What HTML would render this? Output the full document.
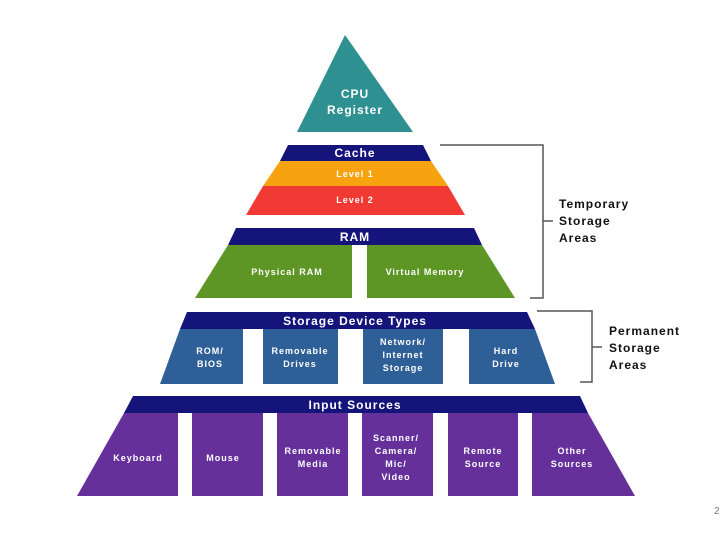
<!DOCTYPE html>
<html><head><meta charset="utf-8"><style>
html,body{margin:0;padding:0;background:#fff;}
svg text{font-family:"Liberation Sans",sans-serif;font-weight:bold;fill:#fff;text-anchor:middle;}
</style></head><body>
<svg width="720" height="540" viewBox="0 0 720 540" xmlns="http://www.w3.org/2000/svg">
<rect width="720" height="540" fill="#fff"/>
<polygon points="345,35 297,132 413,132" fill="#2e9090"/>
<text x="355" y="98" font-size="12" letter-spacing="1">CPU</text>
<text x="355" y="114" font-size="12" letter-spacing="1">Register</text>

<polygon points="288,145 423,145 431,161 280,161" fill="#14147a"/>
<text x="355" y="157" font-size="12" letter-spacing="1">Cache</text>
<polygon points="280,161 431,161 448,186 263,186" fill="#f7a20f"/>
<text x="355" y="177" font-size="9" letter-spacing="1">Level 1</text>
<polygon points="263,186 448,186 465,215 246,215" fill="#f23a35"/>
<text x="355" y="203" font-size="9" letter-spacing="1">Level 2</text>

<polygon points="236,228 474,228 482,245 228,245" fill="#14147a"/>
<text x="355" y="241" font-size="12" letter-spacing="1">RAM</text>
<polygon points="228,245 352,245 352,298 195,298" fill="#5e9625"/>
<polygon points="367,245 482,245 515,298 367,298" fill="#5e9625"/>
<text x="287" y="275" font-size="9" letter-spacing="1">Physical RAM</text>
<text x="425" y="275" font-size="9" letter-spacing="1">Virtual Memory</text>

<polygon points="187,312 527,312 535,329 180,329" fill="#14147a"/>
<text x="355" y="325" font-size="12" letter-spacing="1">Storage Device Types</text>
<polygon points="180,329 243,329 243,384 160,384" fill="#2e5f96"/>
<rect x="263" y="329" width="75" height="55" fill="#2e5f96"/>
<rect x="363" y="329" width="80" height="55" fill="#2e5f96"/>
<polygon points="469,329 535,329 555,384 469,384" fill="#2e5f96"/>
<g font-size="9" letter-spacing="1">
<text x="210" y="354">ROM/</text><text x="210" y="367">BIOS</text>
<text x="300" y="354">Removable</text><text x="300" y="367">Drives</text>
<text x="403" y="345">Network/</text><text x="403" y="358">Internet</text><text x="403" y="371">Storage</text>
<text x="506" y="354">Hard</text><text x="506" y="367">Drive</text>
</g>

<polygon points="133,396 580,396 588,413 124,413" fill="#14147a"/>
<text x="355" y="409" font-size="12" letter-spacing="1">Input Sources</text>
<g fill="#65309a">
<polygon points="124,413 178,413 178,496 77,496"/>
<rect x="192" y="413" width="71" height="83"/>
<rect x="277" y="413" width="71" height="83"/>
<rect x="362" y="413" width="71" height="83"/>
<rect x="448" y="413" width="70" height="83"/>
<polygon points="532,413 588,413 635,496 532,496"/>
</g>
<g font-size="9" letter-spacing="1">
<text x="138" y="461">Keyboard</text>
<text x="223" y="461">Mouse</text>
<text x="313" y="454">Removable</text><text x="313" y="467">Media</text>
<text x="396" y="441">Scanner/</text><text x="396" y="454">Camera/</text><text x="396" y="467">Mic/</text><text x="396" y="480">Video</text>
<text x="483" y="454">Remote</text><text x="483" y="467">Source</text>
<text x="572" y="454">Other</text><text x="572" y="467">Sources</text>
</g>

<g stroke="#555" stroke-width="1.5" fill="none">
<polyline points="440,145 543,145 543,298 530,298"/>
<line x1="543" y1="221" x2="553" y2="221"/>
<polyline points="537,311 592,311 592,382 580,382"/>
<line x1="592" y1="347" x2="602" y2="347"/>
</g>
<g font-size="12" letter-spacing="1" style="fill:#111;text-anchor:start">
<text x="559" y="208" style="fill:#111;text-anchor:start">Temporary</text>
<text x="559" y="225" style="fill:#111;text-anchor:start">Storage</text>
<text x="559" y="242" style="fill:#111;text-anchor:start">Areas</text>
<text x="609" y="335" style="fill:#111;text-anchor:start">Permanent</text>
<text x="609" y="352" style="fill:#111;text-anchor:start">Storage</text>
<text x="609" y="369" style="fill:#111;text-anchor:start">Areas</text>
</g>
<text x="714" y="514" font-size="10" style="fill:#777;font-weight:normal;text-anchor:start">2</text>
</svg>
</body></html>
